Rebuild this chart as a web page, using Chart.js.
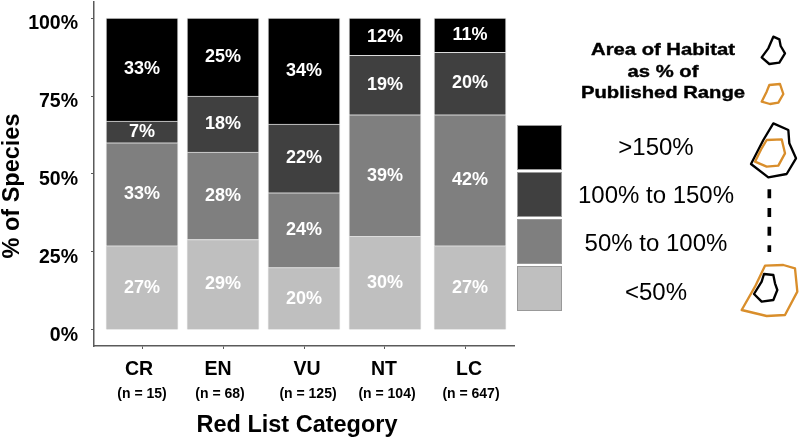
<!DOCTYPE html>
<html>
<head>
<meta charset="utf-8">
<script src="https://cdn.jsdelivr.net/npm/chart.js@4"></script>
<style>
  body { margin: 0; background: #fff; font-family: "Liberation Sans", Arial, sans-serif; }
  #wrap { position: relative; width: 800px; height: 441px; overflow: hidden; }
  #chart { position: absolute; left: 0; top: 0; }
  .swatch { position: absolute; left: 517px; width: 43px; height: 43px; border: 1px solid #999; }
  .name { position: absolute; left: 556px; width: 200px; text-align: center; font-size: 24px; line-height: 28px; color: #000; }
  .head { position: absolute; left: 563px; width: 200px; text-align: center; font-size: 17px; line-height: 21.5px;
          top: 39px; font-weight: bold; color: #000; transform: scaleX(1.19); -webkit-text-stroke: 0.4px #000; }
  #icons { position: absolute; left: 500px; top: 20px; }
</style>
</head>
<body>
<div id="wrap">
  <canvas id="chart" width="800" height="441"></canvas>
  <div class="head">Area of Habitat<br>as % of<br>Published Range</div>
  <svg id="icons" width="300" height="320" viewBox="0 0 900 960" fill="none" stroke-width="7" stroke-linejoin="round">
    <polygon stroke="#000" points="820,50 838,58 842,78 855,100 838,128 808,132 785,112 805,85"/>
    <polygon stroke="#d98e2b" points="808,195 840,192 850,222 835,248 810,252 785,245 800,215"/>
    <polygon stroke="#000" points="820,310 865,330 868,370 888,415 860,462 805,472 753,432 790,360"/>
    <polygon stroke="#d98e2b" points="800,360 845,358 855,400 835,437 800,440 765,425 785,385"/>
    <line stroke="#000" stroke-width="11" stroke-dasharray="27 29" x1="808" y1="508" x2="808" y2="696"/>
    <polygon stroke="#d98e2b" points="795,737 850,735 885,745 892,815 855,885 800,888 725,870 765,800"/>
    <polygon stroke="#000" points="792,762 820,765 825,790 832,810 820,840 785,845 762,822 785,785"/>
  </svg>
</div>
<script>
// data
const categories = ["CR", "EN", "VU", "NT", "LC"];
const sampleSizes = ["(n = 15)", "(n = 68)", "(n = 125)", "(n = 104)", "(n = 647)"];
const under50 = [27, 29, 20, 30, 27];
const from50to100 = [33, 28, 24, 39, 42];
const from100to150 = [7, 18, 22, 19, 20];
const over150 = [33, 25, 34, 12, 11];
const yTicks = [0, 25, 50, 75, 100];
const legendNames = [">150%", "100% to 150%", "50% to 100%", "<50%"];
const legendColors = ["#000000", "#404040", "#7f7f7f", "#bfbfbf"];

const FONT = '"Liberation Sans", Arial, sans-serif';

// the original figure was laid out by hand, labels are not quite centred
const catNudge = [-3, -5, 3, -1, 3];
const sizeNudge = [0, -3, 4, 2, 5];
const lastBarShift = 0.05;

function xData(values) {
    return values.map((v, i) => ({ x: i + (i === 4 ? lastBarShift : 0), y: v }));
}

function makeSet(label, values, color) {
    return {
        label: label,
        data: xData(values),
        backgroundColor: color,
        borderColor: "#dcdcdc",
        borderWidth: 1,
        barThickness: 72,
    };
}

// --- Labels inside the bars, category labels and axis titles ---
const labelsPlugin = {
    id: "labels",
    afterDraw(chart) {
        const ctx = chart.ctx;
        const xScale = chart.scales.x;
        ctx.save();
        ctx.textAlign = "center";
        ctx.textBaseline = "middle";

        ctx.fillStyle = "#fff";
        ctx.font = "bold 18px " + FONT;
        chart.data.datasets.forEach((ds, d) => {
            chart.getDatasetMeta(d).data.forEach((bar, i) => {
                const p = bar.getProps(["x", "y", "base"], true);
                ctx.fillText(ds.data[i].y + "%", p.x, (p.y + p.base) / 2);
            });
        });

        ctx.fillStyle = "#000";
        categories.forEach((c, i) => {
            const x = xScale.getPixelForValue(i);
            ctx.font = "bold 19.5px " + FONT;
            ctx.fillText(c, x + catNudge[i], 370);
            ctx.font = "bold 14px " + FONT;
            ctx.fillText(sampleSizes[i], x + sizeNudge[i], 394);
        });

        ctx.font = "bold 23.5px " + FONT;
        ctx.fillText("Red List Category", 297, 426);

        ctx.translate(13, 186);
        ctx.rotate(-Math.PI / 2);
        ctx.fillText("% of Species", 0, 0);
        ctx.restore();
    },
};

new Chart(document.getElementById("chart"), {
    type: "bar",
    data: {
        datasets: [
            makeSet(legendNames[3], under50, legendColors[3]),
            makeSet(legendNames[2], from50to100, legendColors[2]),
            makeSet(legendNames[1], from100to150, legendColors[1]),
            makeSet(legendNames[0], over150, legendColors[0]),
        ],
    },
    plugins: [labelsPlugin],
    options: {
        responsive: false,
        animation: false,
        layout: { padding: { top: 2, right: 286 } },
        plugins: { legend: { display: false }, tooltip: { enabled: false } },
        scales: {
            x: {
                type: "linear",
                offset: false,
                stacked: true,
                min: -0.593,
                max: 4.593,
                afterBuildTicks(scale) {
                    scale.ticks = categories.map((c, i) => ({ value: i }));
                },
                afterFit(scale) {
                    scale.height = 95;
                    scale.paddingLeft = 0;
                    scale.paddingRight = 0;
                },
                ticks: { display: false },
                grid: { offset: false, drawOnChartArea: false, tickLength: 3, color: "#5a5a5a", lineWidth: 1 },
                border: { color: "#5a5a5a", width: 1.5 },
            },
            y: {
                stacked: true,
                min: -5.13,
                max: 105.13,
                afterBuildTicks(scale) {
                    scale.ticks = yTicks.map((v) => ({ value: v }));
                },
                afterFit(scale) {
                    scale.width = 94;
                    scale.paddingTop = 0;
                    scale.paddingBottom = 0;
                },
                ticks: {
                    callback: (v) => v + "%",
                    color: "#000",
                    font: { family: FONT, size: 19.5, weight: "bold" },
                    padding: 13,
                    labelOffset: 6,
                    autoSkip: false,
                },
                grid: { drawOnChartArea: false, tickLength: 3, color: "#5a5a5a", lineWidth: 1 },
                border: { color: "#5a5a5a", width: 1.5 },
            },
        },
    },
});

// --- Legend on the right ---
const wrap = document.getElementById("wrap");
const swatchTops = [125, 172, 219, 266];
const nameTops = [133, 181, 229, 278];
legendNames.forEach((name, i) => {
    const box = document.createElement("div");
    box.className = "swatch";
    box.style.top = swatchTops[i] + "px";
    box.style.background = legendColors[i];
    wrap.appendChild(box);

    const label = document.createElement("div");
    label.className = "name";
    label.style.top = nameTops[i] + "px";
    label.textContent = name;
    wrap.appendChild(label);
});
</script>
</body>
</html>
